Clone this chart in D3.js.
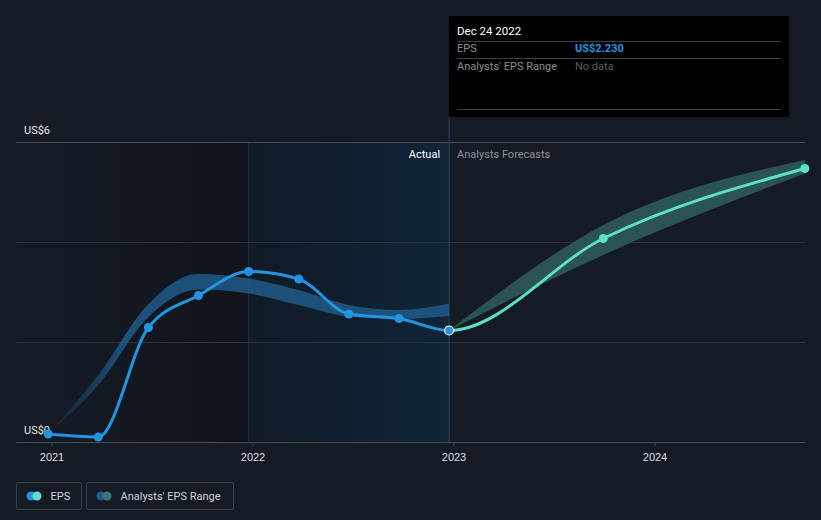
<!DOCTYPE html>
<html>
<head>
<meta charset="utf-8">
<script src="https://cdn.jsdelivr.net/npm/d3@7"></script>
<style>
  html, body { margin: 0; padding: 0; background: #151b25; }
  svg { display: block; font-family: Roboto, "Open Sans", sans-serif; }
</style>
</head>
<body>
<svg id="chart" width="821" height="520"></svg>
<script>
// ---- data ----
const actualDates = ["2020-12-26", "2021-03-27", "2021-06-26", "2021-09-25", "2021-12-25", "2022-03-26", "2022-06-25", "2022-09-24", "2022-12-24"];
const actualEps = [0.16, 0.10, 2.29, 2.93, 3.41, 3.26, 2.56, 2.47, 2.23];
const pastRangeLow = [0.16, 1.14, 2.50, 3.05, 2.97, 2.74, 2.51, 2.46, 2.52];
const pastRangeHigh = [0.16, 1.34, 2.76, 3.36, 3.27, 3.04, 2.74, 2.64, 2.77];
const forecastDates = ["2022-12-24", "2023-09-30", "2024-09-30"];
const forecastEps = [2.23, 4.07, 5.47];
const forecastLow = [2.23, 3.74, 5.37];
const forecastHigh = [2.23, 4.34, 5.64];
const yTickValues = [0, 6];
const yTickLabels = ["US$0", "US$6"];
const xTickLabels = ["2021", "2022", "2023", "2024"];
const tooltipDate = "Dec 24 2022";
const tooltipEps = "US$2.230";

const parse = d3.utcParse("%Y-%m-%d");
const svg = d3.select("#chart");

const x = d3.scaleUtc()
  .domain([Date.UTC(2021, 0, 1), Date.UTC(2024, 0, 1)])
  .range([51.5, 654.5]);
const y = d3.scaleLinear().domain([0, 6]).range([442, 142]);

const left = 16, right = 805;
const lastActual = parse(actualDates[actualDates.length - 1]);
const highlightStart = parse(actualDates[4]);

const defs = svg.append("defs");
const gDark = defs.append("linearGradient").attr("id", "gDark").attr("x1", 0).attr("x2", 1).attr("y1", 0).attr("y2", 0);
gDark.append("stop").attr("offset", 0).attr("stop-color", "#151b25");
gDark.append("stop").attr("offset", 1).attr("stop-color", "#10141c");
const gHi = defs.append("linearGradient").attr("id", "gHi").attr("x1", 0).attr("x2", 1).attr("y1", 0).attr("y2", 0);
gHi.append("stop").attr("offset", 0).attr("stop-color", "#111a26");
gHi.append("stop").attr("offset", 1).attr("stop-color", "#0f2538");
const gBand = defs.append("linearGradient").attr("id", "gBand").attr("gradientUnits", "userSpaceOnUse")
  .attr("x1", x(parse(actualDates[0]))).attr("x2", x(parse(actualDates[2]))).attr("y1", 0).attr("y2", 0);
gBand.append("stop").attr("offset", 0).attr("stop-color", "#1f5a88").attr("stop-opacity", 0.05);
gBand.append("stop").attr("offset", 0.75).attr("stop-color", "#1f5a88").attr("stop-opacity", 0.85);
gBand.append("stop").attr("offset", 1).attr("stop-color", "#1f5a88").attr("stop-opacity", 0.85);

defs.append("clipPath").attr("id", "clipPast").append("rect")
  .attr("x", 0).attr("y", 0).attr("width", x(lastActual)).attr("height", 520);
defs.append("clipPath").attr("id", "clipFuture").append("rect")
  .attr("x", x(lastActual)).attr("y", 0).attr("width", 821 - x(lastActual)).attr("height", 520);

// background regions
svg.append("rect").attr("x", left).attr("y", y(6)).attr("width", x(highlightStart) - left).attr("height", y(0) - y(6)).attr("fill", "url(#gDark)");
svg.append("rect").attr("x", x(highlightStart)).attr("y", y(6)).attr("width", x(lastActual) - x(highlightStart)).attr("height", y(0) - y(6)).attr("fill", "url(#gHi)");
svg.append("line").attr("x1", x(highlightStart)).attr("x2", x(highlightStart)).attr("y1", y(6)).attr("y2", y(0)).attr("stroke", "#1c3448").attr("stroke-width", 1);

// gridlines
svg.append("g").selectAll("line").data([2, 4, 6]).join("line")
  .attr("x1", left).attr("x2", right).attr("y1", d => y(d) + 0.5).attr("y2", d => y(d) + 0.5)
  .attr("stroke", d => d === 6 ? "#464b55" : "#2c323c").attr("stroke-width", 1);

// x axis
const xAxis = d3.axisBottom(x)
  .tickValues([Date.UTC(2021,0,1), Date.UTC(2022,0,1), Date.UTC(2023,0,1), Date.UTC(2024,0,1)].map(d => new Date(d)))
  .tickFormat((d, i) => xTickLabels[i]).tickSize(4).tickSizeOuter(0);
const gx = svg.append("g").attr("transform", `translate(0,${y(0)})`).call(xAxis);
gx.select(".domain").remove();
gx.selectAll(".tick line").attr("stroke", "#464b55");
gx.selectAll(".tick text").attr("fill", "#dcdde0").attr("font-size", 11).attr("dy", "1.05em");
svg.append("line").attr("x1", left).attr("x2", right).attr("y1", y(0) + 0.5).attr("y2", y(0) + 0.5).attr("stroke", "#464b55");

// vertical divider at last actual
svg.append("line").attr("x1", x(lastActual)).attr("x2", x(lastActual)).attr("y1", 117).attr("y2", y(0))
  .attr("stroke", "#2b4256").attr("stroke-width", 1);

// y labels
svg.append("g").selectAll("text").data(yTickValues).join("text")
  .attr("x", 24).attr("y", d => y(d) - 8).attr("fill", "#e6e7ea").attr("font-size", 11)
  .text((d, i) => yTickLabels[i]);

// past analyst band
const pastBandData = actualDates.map((d, i) => ({ date: parse(d), lo: pastRangeLow[i], hi: pastRangeHigh[i] }));
const area = d3.area().x(d => x(d.date)).y0(d => y(d.lo)).y1(d => y(d.hi)).curve(d3.curveMonotoneX);
svg.append("path").datum(pastBandData).attr("d", area).attr("fill", "url(#gBand)");

// forecast band
const fcBandData = forecastDates.map((d, i) => ({ date: parse(d), lo: forecastLow[i], hi: forecastHigh[i] }));
svg.append("path").datum(fcBandData).attr("d", area).attr("fill", "#2c5654").attr("opacity", 0.95);

// Actual / Forecast labels
svg.append("text").attr("x", x(lastActual) - 9).attr("y", 158).attr("text-anchor", "end")
  .attr("fill", "#ffffff").attr("font-size", 11).text("Actual");
svg.append("text").attr("x", x(lastActual) + 8).attr("y", 158)
  .attr("fill", "#8e9299").attr("font-size", 11).text("Analysts Forecasts");

// lines: one continuous curve, coloured by clipping at the last actual date
const line = d3.line().x(d => x(d.date)).y(d => y(d.v)).curve(d3.curveMonotoneX);
const actualData = actualDates.map((d, i) => ({ date: parse(d), v: actualEps[i] }));
const fcData = forecastDates.map((d, i) => ({ date: parse(d), v: forecastEps[i] }));
const combined = actualData.concat(fcData.slice(1));

svg.append("path").datum(combined).attr("d", line).attr("fill", "none").attr("stroke", "#5ce1c8").attr("stroke-width", 3)
  .attr("clip-path", "url(#clipFuture)");
svg.append("g").selectAll("circle").data(fcData.slice(1)).join("circle")
  .attr("cx", d => x(d.date)).attr("cy", d => y(d.v)).attr("r", 4.5).attr("fill", "#5ce1c8");

svg.append("path").datum(combined).attr("d", line).attr("fill", "none").attr("stroke", "#2394df").attr("stroke-width", 3)
  .attr("clip-path", "url(#clipPast)");
svg.append("g").selectAll("circle").data(actualData.slice(0, -1)).join("circle")
  .attr("cx", d => x(d.date)).attr("cy", d => y(d.v)).attr("r", 4.5).attr("fill", "#2394df");
const last = actualData[actualData.length - 1];
svg.append("circle").attr("cx", x(last.date)).attr("cy", y(last.v)).attr("r", 4.5)
  .attr("fill", "#2394df").attr("stroke", "#ffffff").attr("stroke-width", 1.2);

// tooltip
const tt = svg.append("g");
tt.append("rect").attr("x", 449).attr("y", 16).attr("width", 340).attr("height", 101).attr("fill", "#000000");
tt.append("text").attr("x", 457).attr("y", 35).attr("fill", "#ffffff").attr("font-size", 11.5).text(tooltipDate);
[41, 58, 109].forEach(yy => tt.append("line").attr("x1", 457).attr("x2", 781).attr("y1", yy + 0.5).attr("y2", yy + 0.5).attr("stroke", "#3b3f45"));
tt.append("text").attr("x", 457).attr("y", 52).attr("fill", "#8a8d92").attr("font-size", 11).text("EPS");
tt.append("text").attr("x", 575).attr("y", 52).attr("fill", "#2394df").attr("font-size", 11).attr("font-weight", "bold").text(tooltipEps);
tt.append("text").attr("x", 457).attr("y", 70).attr("fill", "#8a8d92").attr("font-size", 11).text("Analysts' EPS Range");
tt.append("text").attr("x", 575).attr("y", 70).attr("fill", "#5a5d62").attr("font-size", 11).text("No data");

// legend
const legend = svg.append("g");
const items = [
  { label: "EPS", x: 16.5, w: 65, c1: "#2394df", c2: "#5ce1c8" },
  { label: "Analysts' EPS Range", x: 86.5, w: 147, c1: "#1f5a88", c2: "#3a7a75" }
];
items.forEach(it => {
  legend.append("rect").attr("x", it.x).attr("y", 482.5).attr("width", it.w).attr("height", 27).attr("rx", 2)
    .attr("fill", "none").attr("stroke", "#3a3f48");
  legend.append("circle").attr("cx", it.x + 14.5).attr("cy", 496).attr("r", 4.5).attr("fill", it.c1);
  legend.append("circle").attr("cx", it.x + 20.5).attr("cy", 496).attr("r", 4.5).attr("fill", it.c2);
  legend.append("text").attr("x", it.x + 34).attr("y", 500).attr("fill", "#d0d2d6").attr("font-size", 11).text(it.label);
});
</script>
</body>
</html>
